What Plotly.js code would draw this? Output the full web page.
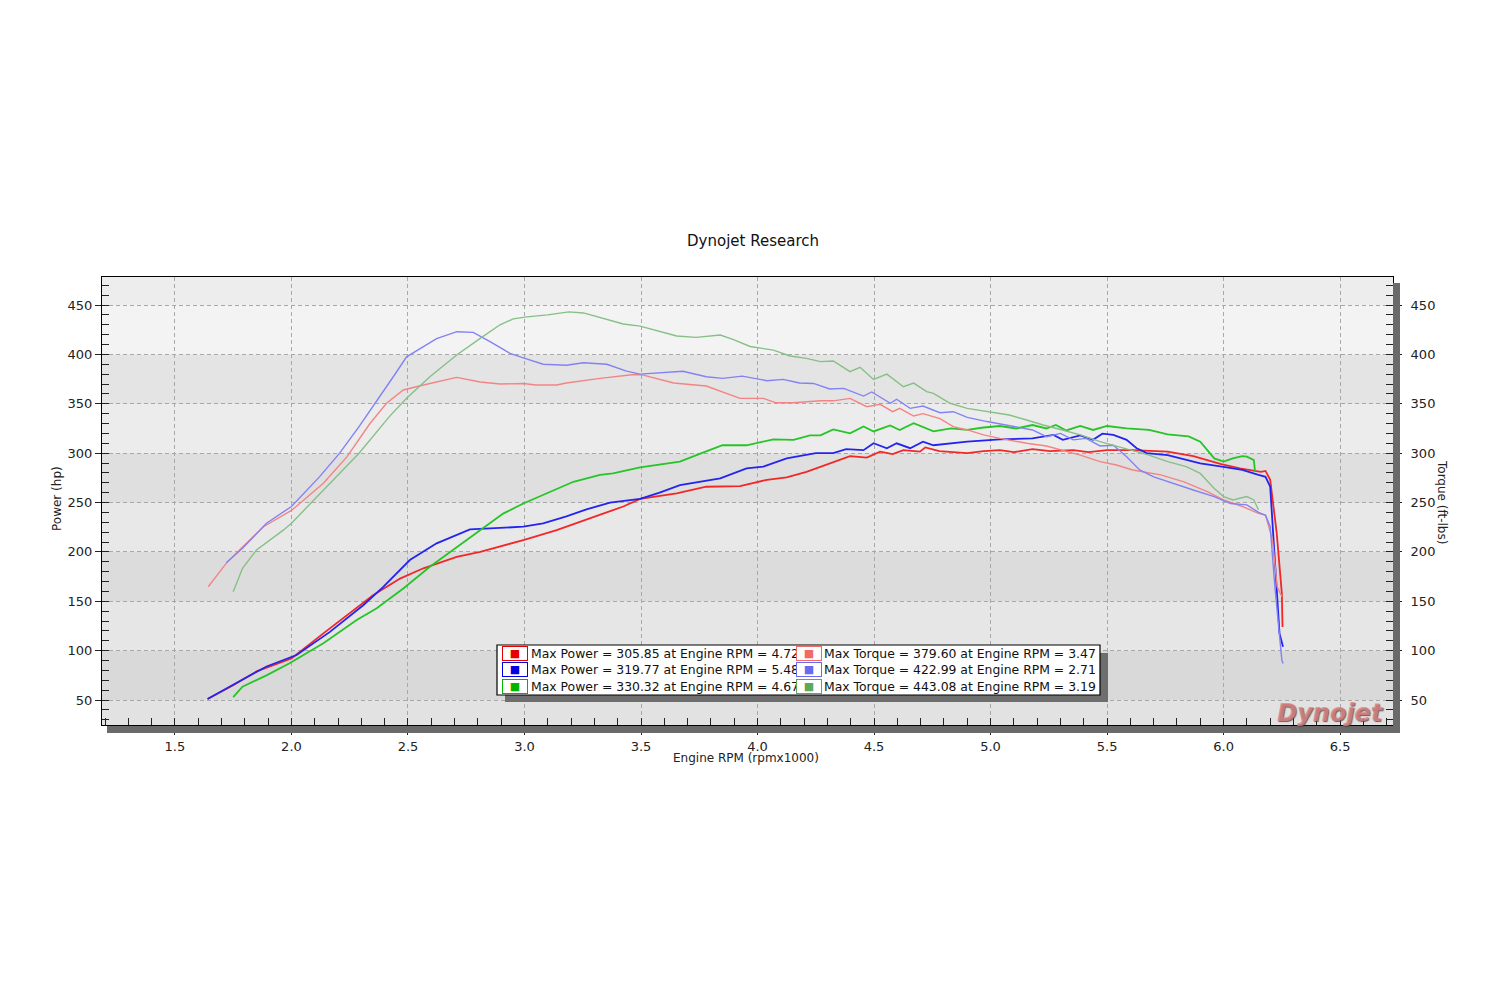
<!DOCTYPE html>
<html>
<head>
<meta charset="utf-8">
<script src="https://cdn.plot.ly/plotly-3.0.1.min.js"></script>
<style>
  html, body { margin: 0; padding: 0; background: #fff; }
  #dyno { width: 1500px; height: 1000px; }
</style>
</head>
<body>
<div id="dyno"></div>
<script>
// run 1 (red)
var rpmPower1 = [1.64, 1.75, 1.85, 2.0, 2.137, 2.25, 2.35, 2.466, 2.566, 2.709, 2.81, 2.995, 3.138, 3.28, 3.424, 3.496, 3.653, 3.78, 3.925, 4.04, 4.125, 4.21, 4.31, 4.397, 4.469, 4.526, 4.58, 4.626, 4.697, 4.72, 4.78, 4.9, 4.97, 5.04, 5.1, 5.18, 5.255, 5.355, 5.42, 5.5, 5.61, 5.76, 5.87, 5.99, 6.07, 6.16, 6.18, 6.2, 6.228, 6.25, 6.253];
var hp1 = [51, 65, 79, 92, 117.5, 138, 156, 173, 183.4, 195, 200, 212, 222, 234, 246, 253.6, 259.3, 266, 266.7, 273, 275.5, 281, 289.7, 297, 295.5, 301.5, 299, 303, 301.5, 305.85, 302, 300, 302, 303, 301, 304, 302, 303, 301, 303, 303, 301.5, 297, 289, 284.6, 281, 282, 273, 219, 158, 124];
var rpmTorque1 = [1.643, 1.72, 1.79, 1.88, 2.0, 2.137, 2.237, 2.337, 2.408, 2.48, 2.566, 2.709, 2.81, 2.895, 2.995, 3.05, 3.138, 3.18, 3.324, 3.395, 3.47, 3.51, 3.64, 3.78, 3.925, 4.025, 4.08, 4.155, 4.27, 4.325, 4.397, 4.469, 4.526, 4.58, 4.61, 4.67, 4.71, 4.783, 4.84, 4.9, 4.97, 5.04, 5.155, 5.24, 5.325, 5.385, 5.47, 5.54, 5.61, 5.73, 5.83, 5.93, 6.0, 6.08, 6.15, 6.18, 6.21, 6.23, 6.25];
var tq1 = [164.7, 188.4, 205, 225.5, 242, 269.5, 296, 330, 350.5, 364, 369, 376.7, 372, 370, 370.6, 369, 369, 371, 375.7, 377.4, 379.6, 379, 371, 368, 355.5, 355.5, 351, 351, 353, 353, 355.5, 347, 349.5, 342, 345.4, 337.6, 340, 335, 326.8, 323.5, 318.5, 315, 310, 307.3, 301.5, 298, 291.4, 288, 283, 278, 271, 261, 252.6, 246, 239, 237.4, 212, 165, 154.6];

// run 2 (blue)
var rpmPower2 = [1.64, 1.707, 1.8, 1.893, 2.022, 2.165, 2.308, 2.394, 2.508, 2.623, 2.766, 2.995, 3.08, 3.18, 3.266, 3.367, 3.496, 3.58, 3.667, 3.84, 3.953, 4.025, 4.125, 4.25, 4.325, 4.38, 4.455, 4.498, 4.555, 4.597, 4.655, 4.71, 4.755, 4.9, 5.04, 5.18, 5.27, 5.31, 5.385, 5.44, 5.48, 5.527, 5.584, 5.627, 5.67, 5.76, 5.9, 6.0, 6.08, 6.15, 6.18, 6.2, 6.22, 6.24, 6.255];
var hp2 = [51, 60, 72, 84, 95.6, 119, 146, 164.6, 191.8, 208.7, 222.8, 225.5, 229, 236, 243, 250, 253.6, 260, 267.7, 274.5, 284.6, 286.3, 294.7, 300, 300, 304, 303, 310, 305, 310, 305, 311.6, 308, 311.6, 314, 315, 318.5, 313.5, 318, 313.5, 319.77, 318.5, 313.5, 305, 300, 298, 289.7, 286, 283, 278, 276, 266, 192, 117.5, 104];
var rpmTorque2 = [1.72, 1.79, 1.893, 2.0, 2.12, 2.206, 2.29, 2.38, 2.437, 2.494, 2.623, 2.71, 2.78, 2.852, 2.938, 2.995, 3.08, 3.18, 3.253, 3.353, 3.438, 3.496, 3.567, 3.68, 3.78, 3.85, 3.935, 4.04, 4.11, 4.18, 4.24, 4.31, 4.37, 4.455, 4.49, 4.57, 4.597, 4.655, 4.71, 4.783, 4.84, 4.9, 4.985, 5.07, 5.18, 5.24, 5.3, 5.355, 5.41, 5.47, 5.527, 5.584, 5.64, 5.7, 5.78, 5.87, 5.96, 6.03, 6.1, 6.15, 6.18, 6.2, 6.22, 6.25, 6.255];
var tq2 = [189, 203.6, 229, 246, 276, 299.8, 326.8, 357, 377.4, 397.6, 416, 422.99, 422.3, 413, 401, 396.5, 390, 389, 391.5, 390, 383, 380, 381, 383, 377.4, 375.7, 378, 373.4, 374.7, 371, 370.6, 365, 365.6, 357.8, 362, 350.5, 354.6, 345.4, 347.7, 341, 342, 336.3, 332, 328.5, 323.5, 316.7, 320, 313.5, 315, 307.3, 308, 296.4, 283, 276, 269.5, 262.7, 256, 249, 247.6, 240, 237, 225.5, 165, 90.5, 87];

// run 3 (green)
var rpmPower3 = [1.75, 1.79, 1.893, 1.99, 2.137, 2.28, 2.366, 2.48, 2.594, 2.709, 2.81, 2.91, 2.995, 3.095, 3.21, 3.324, 3.38, 3.496, 3.61, 3.667, 3.76, 3.85, 3.953, 4.068, 4.155, 4.225, 4.27, 4.325, 4.397, 4.455, 4.498, 4.569, 4.61, 4.67, 4.755, 4.83, 4.9, 4.97, 5.04, 5.11, 5.18, 5.24, 5.28, 5.325, 5.385, 5.44, 5.5, 5.584, 5.68, 5.76, 5.85, 5.9, 5.96, 6.0, 6.04, 6.08, 6.1, 6.13, 6.135];
var hp3 = [53, 63.5, 75, 87, 107.5, 131, 143, 163, 185, 205, 222, 239, 249, 259, 271, 278, 279.5, 285.6, 289.7, 291.4, 300, 308, 308, 314, 313.5, 318, 318, 324, 320, 327, 322, 328, 323.5, 330.32, 322, 325, 323.5, 326, 327.5, 325, 328.5, 325, 328.5, 323, 327.5, 323.5, 327.5, 325, 323.5, 319, 317, 311.6, 294.7, 291.4, 294.7, 297, 296.4, 293, 281];
var rpmTorque3 = [1.75, 1.79, 1.85, 1.91, 1.965, 2.0, 2.137, 2.29, 2.42, 2.494, 2.594, 2.709, 2.81, 2.895, 2.952, 3.01, 3.1, 3.19, 3.253, 3.324, 3.424, 3.496, 3.567, 3.653, 3.737, 3.84, 3.897, 3.968, 4.068, 4.14, 4.21, 4.27, 4.325, 4.397, 4.44, 4.498, 4.555, 4.626, 4.67, 4.726, 4.755, 4.826, 4.9, 4.998, 5.08, 5.155, 5.226, 5.3, 5.385, 5.47, 5.54, 5.61, 5.68, 5.76, 5.84, 5.9, 5.96, 6.0, 6.04, 6.1, 6.13, 6.15];
var tq3 = [159.7, 183.4, 202, 212, 222, 229, 262.7, 300, 337, 355.5, 377.4, 399.4, 416.3, 430, 436, 438, 440, 443.08, 442, 437.5, 430.8, 428.7, 424, 418.6, 417.3, 419.6, 415, 408, 404.4, 398.4, 396, 392.7, 393.3, 382.5, 387, 374.7, 380, 367.3, 371, 362.3, 360.5, 350.5, 345.4, 342, 338.6, 333.6, 328.5, 324, 318.5, 311.6, 307.3, 303, 298, 291.4, 286.4, 279.5, 264.3, 256, 252.6, 256, 252.6, 242.4];

var powerLabels = ['Max Power = 305.85 at Engine RPM = 4.72', 'Max Power = 319.77 at Engine RPM = 5.48', 'Max Power = 330.32 at Engine RPM = 4.67'];
var torqueLabels = ['Max Torque = 379.60 at Engine RPM = 3.47', 'Max Torque = 422.99 at Engine RPM = 2.71', 'Max Torque = 443.08 at Engine RPM = 3.19'];

var powerColors = ['#f02828', '#2424f0', '#26c426'];
var torqueColors = ['#f48484', '#8282f4', '#86c086'];
var keyPower = ['#e80000', '#0000e0', '#00b400'];
var keyTorque = ['#f06a6a', '#6a6af0', '#5aaa5a'];

// plot area in pixels
var L = 102, R = 1393, T = 277, B = 725;
function px(x) { return (x - L) / (R - L); }
function py(y) { return (B - y) / (B - T); }

var font = 'DejaVu Sans, Verdana, sans-serif';

var traces = [];
var powerX = [rpmPower1, rpmPower2, rpmPower3], powerY = [hp1, hp2, hp3];
var torqueX = [rpmTorque1, rpmTorque2, rpmTorque3], torqueY = [tq1, tq2, tq3];
for (var i = 0; i < 3; i++) {
  traces.push({x: torqueX[i], y: torqueY[i], yaxis: 'y2', type: 'scatter', mode: 'lines',
    line: {color: torqueColors[i], width: 1.4}, showlegend: false});
}
for (var i = 0; i < 3; i++) {
  traces.push({x: powerX[i], y: powerY[i], type: 'scatter', mode: 'lines',
    line: {color: powerColors[i], width: 1.8}, showlegend: false});
}

// background bands, lighter at the top
var bandEdges = [24.7, 50, 100, 150, 200, 250, 300, 350, 400, 450, 478.4];
var bandFill = ['#e2e2e2', '#d9d9d9', '#e6e6e6', '#dcdcdc', '#e8e8e8', '#dfdfdf', '#ececec', '#e4e4e4', '#f3f3f3', '#ededed'];
var shapes = [];
for (var b = 0; b < bandFill.length; b++) {
  shapes.push({type: 'rect', xref: 'paper', yref: 'y', x0: 0, x1: 1, y0: bandEdges[b], y1: bandEdges[b + 1],
    fillcolor: bandFill[b], line: {width: 0}, layer: 'below'});
}
// dark frame at right and bottom
shapes.push({type: 'rect', xref: 'paper', yref: 'paper', x0: px(1393), x1: px(1400), y0: py(733), y1: py(283),
  fillcolor: '#6a6a6a', line: {width: 0}, layer: 'above'});
shapes.push({type: 'rect', xref: 'paper', yref: 'paper', x0: px(107), x1: px(1400), y0: py(733), y1: py(726),
  fillcolor: '#6a6a6a', line: {width: 0}, layer: 'above'});
// key box
shapes.push({type: 'rect', xref: 'paper', yref: 'paper', x0: px(505), x1: px(1108), y0: py(702), y1: py(653),
  fillcolor: '#6e6e6e', line: {width: 0}, layer: 'above'});
shapes.push({type: 'rect', xref: 'paper', yref: 'paper', x0: px(497), x1: px(1100), y0: py(695), y1: py(645),
  fillcolor: '#ffffff', line: {color: '#000', width: 1.2}, layer: 'above'});

var annotations = [];
var rowY = [653, 669.5, 686];
function keyBox(xc, y, color) {
  return {xref: 'paper', yref: 'paper', x: px(xc), y: py(y), xanchor: 'center', yanchor: 'middle',
    text: '■', showarrow: false, font: {family: font, size: 11, color: color}, width: 24, height: 13,
    bordercolor: color, borderwidth: 1, borderpad: 0, bgcolor: '#fff'};
}
function keyText(xl, y, txt) {
  return {xref: 'paper', yref: 'paper', x: px(xl), y: py(y), xanchor: 'left', yanchor: 'middle',
    text: txt, showarrow: false, font: {family: font, size: 12.4, color: '#111'}};
}
for (var r = 0; r < 3; r++) {
  annotations.push(keyBox(515, rowY[r], keyPower[r]));
  annotations.push(keyText(529, rowY[r], powerLabels[r]));
}
for (var r = 0; r < 3; r++) {
  annotations.push(keyBox(809, rowY[r], keyTorque[r]));
  annotations.push(keyText(822, rowY[r], torqueLabels[r]));
}
// axis titles
annotations.push({xref: 'paper', yref: 'paper', x: px(57), y: py(499), xanchor: 'center', yanchor: 'middle',
  text: 'Power (hp)', textangle: -90, showarrow: false, font: {family: font, size: 12, color: '#222'}});
annotations.push({xref: 'paper', yref: 'paper', x: px(1442), y: py(502), xanchor: 'center', yanchor: 'middle',
  text: 'Torque (ft-lbs)', textangle: 90, showarrow: false, font: {family: font, size: 12, color: '#222'}});
annotations.push({xref: 'paper', yref: 'paper', x: px(746), y: py(758), xanchor: 'center', yanchor: 'middle',
  text: 'Engine RPM (rpmx1000)', showarrow: false, font: {family: font, size: 12, color: '#222'}});
// watermark
annotations.push({xref: 'paper', yref: 'paper', x: px(1330), y: py(713), xanchor: 'center', yanchor: 'middle',
  text: 'Dynojet', showarrow: false,
  font: {family: font, size: 24, color: 'rgba(228,130,130,0.8)', weight: 'bold', style: 'italic',
    shadow: '1px 1px 1px #444'}});

var axisFont = {family: font, size: 13, color: '#222'};

var layout = {
  width: 1500, height: 1000,
  paper_bgcolor: '#ffffff', plot_bgcolor: '#e2e2e2',
  margin: {l: L, r: 1500 - R, t: T, b: 1000 - B, pad: 0},
  showlegend: false,
  title: {text: 'Dynojet Research', x: 0.502, xanchor: 'center', y: 0.759, yanchor: 'middle',
    font: {family: font, size: 15, color: '#111'}},
  xaxis: {
    range: [1.187, 6.727], tick0: 0, dtick: 0.5, tickformat: '.1f',
    showline: true, linecolor: '#000', linewidth: 1, mirror: true,
    ticks: 'outside', ticklen: 9, tickcolor: '#222', tickfont: axisFont,
    showgrid: true, gridcolor: '#a8a8a8', griddash: '4px,3px', gridwidth: 1, zeroline: false,
    minor: {dtick: 0.1, tick0: 0, ticks: 'inside', ticklen: 7, tickcolor: '#222', showgrid: false}
  },
  yaxis: {
    range: [24.7, 478.4], tick0: 0, dtick: 50,
    showline: true, linecolor: '#000', linewidth: 1,
    ticks: 'outside', ticklen: 6, tickcolor: '#222', tickfont: axisFont,
    showgrid: true, gridcolor: '#a8a8a8', griddash: '4px,3px', gridwidth: 1, zeroline: false,
    minor: {dtick: 10, tick0: 0, ticks: 'inside', ticklen: 7, tickcolor: '#222', showgrid: false}
  },
  yaxis2: {
    overlaying: 'y', side: 'right', range: [24.7, 478.4], tick0: 0, dtick: 50,
    showline: true, linecolor: '#000', linewidth: 1,
    ticks: 'outside', ticklen: 8, tickcolor: '#222', tickfont: axisFont, ticklabelstandoff: 6,
    showgrid: false, zeroline: false,
    minor: {dtick: 10, tick0: 0, ticks: 'inside', ticklen: 7, tickcolor: '#222', showgrid: false}
  },
  shapes: shapes,
  annotations: annotations
};

Plotly.newPlot('dyno', traces, layout, {displayModeBar: false, staticPlot: true});
</script>
</body>
</html>
